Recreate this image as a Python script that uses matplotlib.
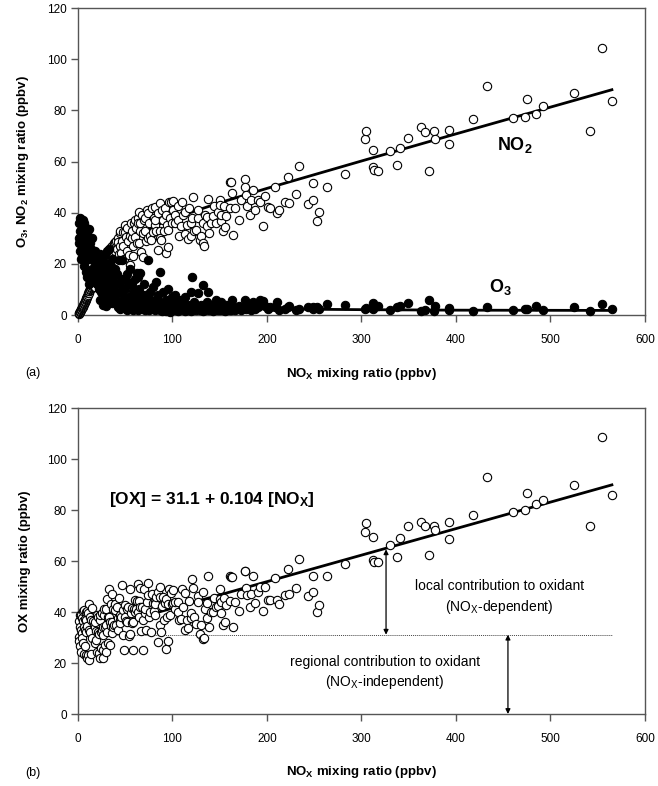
import numpy as np
import matplotlib
matplotlib.use("Agg")
from matplotlib import pyplot as plt

plt.rcParams['font.family'] = ['Liberation Sans', 'DejaVu Sans']
plt.rcParams['mathtext.fontset'] = 'custom'
plt.rcParams['mathtext.rm'] = 'Liberation Sans'
plt.rcParams['mathtext.it'] = 'Liberation Sans:italic'
plt.rcParams['mathtext.bf'] = 'Liberation Sans:bold'

nox = [0.8, 1.2, 1.5, 2.0, 2.2, 2.5, 3.0, 3.2, 3.5, 4.0,
       4.2, 4.5, 5.0, 5.2, 5.5, 6.0, 6.2, 6.5, 7.0, 7.2,
       7.5, 8.0, 8.3, 8.5, 9.0, 9.3, 9.5, 10.0, 10.5, 10.9,
       11.3, 11.8, 12.0, 12.5, 13.0, 13.4, 14.0, 14.5, 15.0, 16.2,
       17, 17.5, 18, 18.5, 19, 19.5, 20, 20.5, 21, 21.5,
       22, 22.5, 22.8, 23, 23.5, 24, 24.5, 25, 25.5, 26,
       26, 26.5, 27, 27.5, 28, 28.5, 29, 29.5, 30, 30,
       30.5, 31, 31.5, 32, 32.5, 33, 33.5, 34, 34.5, 35,
       35.5, 36, 36.5, 37, 37.5, 38, 38.8, 39.5,
       40, 41, 42, 42.3, 43, 44, 44.5, 45, 45.9, 46.9,
       47.6, 48, 49, 49.4, 50, 51.1, 51.5, 52, 53, 54,
       54.7, 55, 56.4, 56.8, 57.5, 58, 58, 59, 60, 60.5,
       61, 62, 63, 63.5, 64.2, 65, 65.6, 66, 67, 67.5,
       68.8, 69, 69.5, 70.5, 71, 72, 73, 74, 74.4, 75,
       76, 77.6, 78, 79.4, 80, 81, 81.8, 82, 83, 84.6,
       85, 86.4, 86.8, 87, 88, 89, 90, 91, 92.4, 93.5,
       93.5, 94, 95.2, 95.2, 96, 97, 98, 99, 100.5,
       100.8, 102.3, 103, 105.8, 105.8, 107, 109.3, 109.7, 111, 112.9,
       113.2, 115, 116.4, 118, 119.2, 119.2, 120.3, 121.7, 123, 125.2,
       127, 127.3, 129.1, 130.5, 131.9, 132.3, 133.3, 134, 136.2, 136.8,
       137.6, 139, 141, 142.8, 144, 146, 148, 150, 150.3, 151,
       151.7, 153, 155, 155.6, 157, 160.5, 160.9, 162.2, 163, 164,
       166, 170, 173, 176.4, 176.7, 178, 179, 181.6, 183.4, 185,
       187, 190.5, 193, 195.7, 197.5, 201, 203.2, 208.5, 210.2, 213,
       219, 221.9, 223.3, 230.7, 234.2, 243.7, 248.7, 249, 252.6, 255.4,
       263.1, 282.2, 303.4, 304.4, 312, 312.5, 313, 317, 330.2, 337.2,
       340.7, 348.9, 362.6, 367.2, 371.8, 376.7, 377.8, 393, 393, 418.3,
       432.5, 460, 473, 474.8, 484.3, 492.4, 525, 541.8, 555, 564.7]

no2 = [0.3, 0.6, 0.8, 1.0, 1.2, 1.5, 1.8, 2.0, 2.2, 2.6,
       2.8, 3.0, 3.3, 3.5, 3.8, 4.2, 4.4, 4.6, 5.0, 5.2,
       5.5, 5.9, 6.1, 6.3, 6.7, 7.0, 7.2, 7.6, 8.0, 8.5,
       8.8, 9.2, 9.5, 9.9, 10.2, 10.4, 11.0, 11.5, 11.9, 12.4,
       13, 12, 14, 11, 15, 13.5, 16, 12.5, 15, 17,
       14, 16.5, 16, 18, 15, 17, 19, 16, 18.5, 20,
       18, 17, 19, 21, 18, 20, 22, 19, 21, 21,
       23, 20, 22, 24, 21, 23, 25, 22, 24, 26.7,
       23, 25, 27, 24, 26, 28, 28.7, 25,
       29, 26, 30, 28.7, 24, 31.9, 27, 33, 24.1, 29,
       32.6, 27, 22, 32.6, 35, 30.6, 25, 34, 29, 23.5,
       19.5, 31, 35.8, 30, 33, 27, 23, 36, 37.1, 30.6,
       34, 28, 38, 35.8, 40.4, 28, 33, 36, 24.7, 39,
       31.9, 22.5, 37, 37.8, 33, 29, 41, 39.8, 30, 36,
       31, 29.3, 42, 32.4, 38, 35, 42.1, 37.1, 33, 25.4,
       40, 43.7, 33, 30, 29.3, 41, 37, 33, 41.7, 39.1,
       24.1, 35, 33.2, 26.7, 44, 38, 44.3, 36, 41,
       44.5, 39.1, 36, 37.1, 42.6, 31, 34.8, 44.2, 39.1, 31.5,
       40.4, 35, 29.6, 42, 36, 30.8, 38, 46.3, 33, 33.2,
       37.8, 41, 29.3, 30.8, 36, 28.1, 27, 39.1, 38.4, 34.8,
       45.2, 32, 35.9, 38.6, 42.6, 36, 40.4, 45, 43, 36.8,
       39.1, 33, 42.6, 34.5, 38.6, 41.7, 52.1, 51.9, 47.6, 31.3,
       42, 37, 45, 53.2, 50, 46.9, 42.6, 39.1, 45, 49,
       41, 45, 44, 34.8, 46.5, 42.1, 41.7, 50.2, 39.8, 41,
       44.3, 53.8, 43.7, 47.3, 58.4, 43.4, 51.7, 45, 36.9, 40.3,
       50, 55, 68.8, 71.9, 58, 64.5, 56.5, 56.3, 64.2, 58.6,
       65.4, 69.1, 73.6, 71.7, 56.4, 72.1, 68.7, 72.3, 66.8, 76.5,
       89.6, 77, 77.5, 84.3, 78.6, 81.8, 86.7, 71.9, 104.2, 83.8]

o3 = [30, 36, 28, 38, 33, 25, 37, 31, 22, 35,
      29, 27, 37, 33, 24, 30, 19, 36, 28, 32,
      21, 34, 26, 17, 30, 15, 33, 27, 15, 31,
      24, 12, 33.5, 28, 22, 13, 26, 30, 18, 24,
      22, 16, 20, 25, 14, 19, 23, 12, 17, 21,
      10, 15, 6, 19, 24, 9, 13, 17, 21, 11,
      4, 8, 15, 18, 23, 7, 12, 16, 20, 3.5,
      9, 25, 6, 14, 17, 26, 11, 5, 19, 8,
      13, 22, 4.6, 10, 15, 7, 12, 18,
      6, 16, 3, 9, 21.5, 5, 12, 2.5, 14, 21.5,
      8, 4, 3, 10, 3, 6, 16, 2, 13, 7,
      12, 18, 4, 11.7, 2.5, 9, 2, 5, 3, 14,
      7, 16.3, 2, 15, 4, 10, 16.3, 6, 8, 3,
      5, 2.5, 12, 2, 8, 4, 3, 7, 21.5, 2,
      9, 3, 5, 11, 2.5, 4, 2, 6, 13, 3,
      8, 2, 16.9, 5, 3, 1.5, 9, 4, 2, 6,
      1.5, 3, 10, 2, 5, 1, 3, 7, 2.5,
      4, 2, 8, 3, 1.5, 6, 2.5, 5, 3, 1.5,
      7, 2, 4, 2.5, 1.5, 9, 15, 3, 5, 2,
      8.5, 3, 2, 4, 11.7, 1.5, 3, 2, 5, 3,
      9.1, 2, 4, 1.5, 3, 6, 2, 4, 2, 3,
      5, 2, 3, 1.5, 4, 2.5, 2, 2, 6, 3,
      2, 3.5, 2, 3, 6, 2.5, 4, 3, 2, 5,
      2.5, 3, 6, 5.5, 3.5, 2.5, 3, 3, 5, 2,
      2.5, 3, 3.5, 2, 2.5, 3, 2.5, 3, 3, 2.5,
      4.3, 3.8, 2.5, 2.9, 2.5, 4.8, 3.2, 3.5, 2.1, 3.0,
      3.5, 4.8, 1.7, 2.1, 5.9, 1.7, 3.5, 2.9, 2.0, 1.7,
      3.3, 2.1, 2.5, 2.2, 3.6, 2.1, 3.0, 1.7, 4.3, 2.2]

# total oxidant OX = O3 + NO2 (panel b)
ox = np.array(no2) + np.array(o3)

# fitted curves
ox_intercept = 31.1
ox_slope = 0.104
o3_fit_x = [60, 80, 100, 150, 200, 300, 400, 565]
o3_fit_y = [6.5, 4.8, 3.8, 2.8, 2.4, 2.1, 1.9, 1.8]

x_ticks = [0, 100, 200, 300, 400, 500, 600]
y_ticks = [0, 20, 40, 60, 80, 100, 120]

fig = plt.figure(figsize=(6.58, 7.86), dpi=100)
ax1 = fig.add_axes([0.1185, 0.5992, 0.8617, 0.3906])
ax2 = fig.add_axes([0.1185, 0.0916, 0.8617, 0.3893])

frame_col = '#555555'
msize = 36
for ax in (ax1, ax2):
    ax.set_xlim(0, 600)
    ax.set_ylim(0, 120)
    ax.set_xticks(x_ticks)
    ax.set_yticks(y_ticks)
    ax.tick_params(axis='both', direction='out', length=5, width=1,
                   color=frame_col, labelsize=8.5)
    ax.tick_params(axis='x', pad=9)
    ax.tick_params(axis='y', pad=3)
    for s in ax.spines.values():
        s.set_color(frame_col)
        s.set_linewidth(1)
    ax.set_xlabel(r'NO$_\mathbf{X}$ mixing ratio (ppbv)', fontsize=9.5,
                  fontweight='bold')
    ax.xaxis.set_label_coords(0.5, -0.165)

# (a) NO2 and O3 against NOx
o3_fit_x = np.array(o3_fit_x)
o3_fit_y = np.array(o3_fit_y)
no2_fit_y = ox_intercept + ox_slope * o3_fit_x - o3_fit_y
ax1.plot(o3_fit_x, no2_fit_y, color='black', lw=2, zorder=2)
ax1.plot(o3_fit_x, o3_fit_y, color='black', lw=2, zorder=2)
ax1.scatter(nox, no2, s=msize, facecolor='white', edgecolor='black',
            linewidth=0.8, zorder=3, clip_on=False)
ax1.scatter(nox, o3, s=msize, facecolor='black', edgecolor='black',
            linewidth=0.8, zorder=4, clip_on=False)
ax1.text(462, 66.5, r'NO$_\mathbf{2}$', fontsize=13, fontweight='bold',
         ha='center', va='center')
ax1.text(447, 11, r'O$_\mathbf{3}$', fontsize=13, fontweight='bold',
         ha='center', va='center')
ax1.set_ylabel(r'O$_\mathbf{3}$, NO$_\mathbf{2}$ mixing ratio (ppbv)',
               fontsize=9.5, fontweight='bold')
ax1.yaxis.set_label_coords(-0.083, 0.5)

# (b) OX against NOx
fit_x = np.array([0, 565])
ax2.plot(fit_x, ox_intercept + ox_slope * fit_x, color='black', lw=2, zorder=2)
ax2.plot(fit_x, [ox_intercept, ox_intercept], color='#444444', lw=0.7,
         ls=(0, (1, 1)), zorder=1)
ax2.scatter(nox, ox, s=msize, facecolor='white', edgecolor='black',
            linewidth=0.8, zorder=3, clip_on=False)
ax2.annotate('', xy=(326, ox_intercept + ox_slope * 322), xytext=(326, ox_intercept),
             arrowprops=dict(arrowstyle='<|-|>', color='black', lw=0.9,
                             mutation_scale=7, shrinkA=0, shrinkB=0))
ax2.annotate('', xy=(455, 0), xytext=(455, ox_intercept),
             arrowprops=dict(arrowstyle='<|-|>', color='black', lw=0.9,
                             mutation_scale=7, shrinkA=0, shrinkB=0))
ax2.text(446, 45.7, 'local contribution to oxidant\n(NO$_\\mathrm{X}$-dependent)',
         fontsize=10, ha='center', va='center', linespacing=1.35)
ax2.text(325, 16, 'regional contribution to oxidant\n(NO$_\\mathrm{X}$-independent)',
         fontsize=10, ha='center', va='center', linespacing=1.35)
ax2.text(33, 84, r'[OX] = 31.1 + 0.104 [NO$_\mathbf{X}$]', fontsize=12.5,
         fontweight='bold', ha='left', va='center')
ax2.set_ylabel('OX mixing ratio (ppbv)', fontsize=9.5, fontweight='bold')
ax2.yaxis.set_label_coords(-0.083, 0.5)

fig.text(25 / 658, 1 - 373 / 786, '(a)', fontsize=9, ha='left', va='center')
fig.text(25 / 658, 1 - 773 / 786, '(b)', fontsize=9, ha='left', va='center')

plt.savefig('out.png', dpi=100)
